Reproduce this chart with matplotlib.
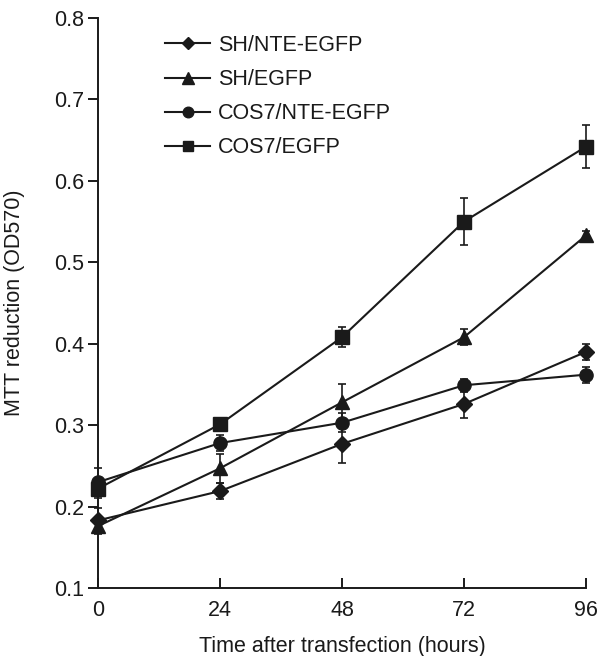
import matplotlib
matplotlib.use("Agg")
import matplotlib.pyplot as plt
from matplotlib.lines import Line2D

plt.rcParams['font.family'] = ['Liberation Sans', 'DejaVu Sans']

hours = [0, 24, 48, 72, 96]
labels = ["SH/NTE-EGFP", "SH/EGFP", "COS7/NTE-EGFP", "COS7/EGFP"]
sh_nte = [0.183, 0.219, 0.277, 0.326, 0.390]
sh_nte_err = [0.015, 0.010, 0.024, 0.017, 0.010]
sh_egfp = [0.176, 0.247, 0.328, 0.408, 0.533]
sh_egfp_err = [0.010, 0.018, 0.023, 0.010, 0.005]
cos_nte = [0.230, 0.278, 0.303, 0.349, 0.362]
cos_nte_err = [0.017, 0.010, 0.012, 0.008, 0.010]
cos_egfp = [0.222, 0.301, 0.408, 0.550, 0.642]
cos_egfp_err = [0.012, 0.005, 0.012, 0.029, 0.026]
yticks = [0.1, 0.2, 0.3, 0.4, 0.5, 0.6, 0.7, 0.8]

C = '#1a1a1a'
fig = plt.figure(figsize=(5.99, 6.56), dpi=100)
ax = fig.add_axes([98/599, 1-588/656, (586-98)/599, (588-18)/656])

series = [(sh_nte, sh_nte_err, 'D', 8.0),
          (sh_egfp, sh_egfp_err, '^', 10.0),
          (cos_nte, cos_nte_err, 'o', 9.5),
          (cos_egfp, cos_egfp_err, 's', 9.5)]
handles = []
for (vals, errs, m, ms), lab in zip(series, labels):
    ax.errorbar(hours, vals, yerr=errs, color=C, marker=m,
                markersize=ms, linewidth=1.5, elinewidth=1.2,
                capsize=3, capthick=1.2, clip_on=False)
    handles.append(Line2D([], [], color=C, marker=m, markersize=ms*0.8,
                          linewidth=1.5))

ax.set_xlim(0, 96)
ax.set_ylim(0.1, 0.8)
ax.set_xticks(hours)
ax.set_yticks(yticks)
ax.set_yticklabels([f"{v:.1f}" for v in yticks])
for s in ['top', 'right']:
    ax.spines[s].set_visible(False)
for s in ['left', 'bottom']:
    ax.spines[s].set_linewidth(1.4)
    ax.spines[s].set_color(C)
ax.tick_params(axis='x', direction='in', length=7, width=1.4, pad=9,
               labelsize=15.5, colors=C)
ax.tick_params(axis='y', direction='out', length=7, width=1.4, pad=3,
               labelsize=15.5, colors=C)

ax.set_xlabel("Time after transfection (hours)", fontsize=15.5, color=C)
ax.xaxis.set_label_coords(0.5, -0.085)
ax.set_ylabel("MTT reduction (OD570)", fontsize=15.5, color=C)
ax.yaxis.set_label_coords(-0.15, 0.5)

leg = ax.legend(handles=handles, labels=labels, loc='upper left',
                bbox_to_anchor=(165/599, 1-35/656), bbox_transform=fig.transFigure,
                frameon=False, fontsize=15.5, handlelength=2.1,
                handletextpad=0.37, labelspacing=0.61,
                borderaxespad=0, borderpad=0)
for t in leg.get_texts():
    t.set_color(C)

fig.savefig("out.png", dpi=100)
